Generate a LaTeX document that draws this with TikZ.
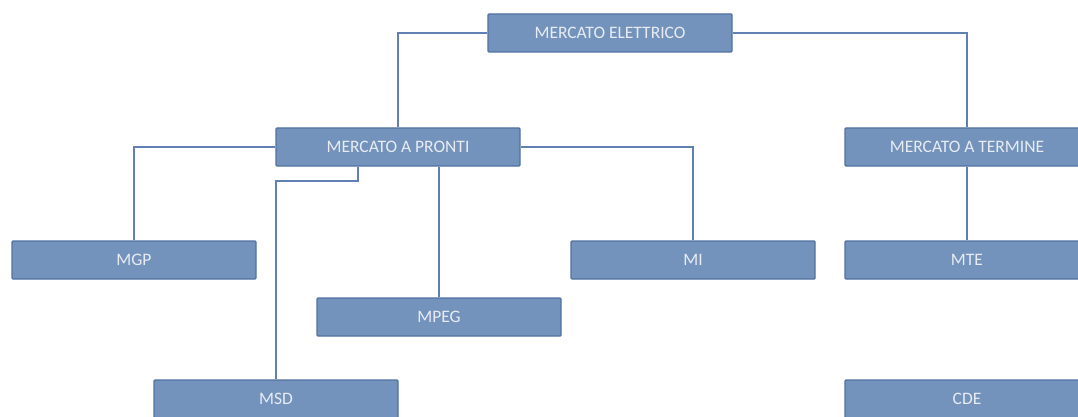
\documentclass[tikz,border=0pt]{standalone}
\usepackage{fontspec}
\setmainfont{Carlito}
\definecolor{boxfill}{RGB}{115,147,188}
\definecolor{boxdraw}{RGB}{80,114,160}
\definecolor{linec}{RGB}{96,128,180}
\definecolor{txt}{RGB}{232,236,242}
\begin{document}
\begin{tikzpicture}[x=1pt,y=1pt,
  box/.style={draw=boxdraw,fill=boxfill,line width=1.4pt,rounded corners=1pt,
    minimum width=244pt,minimum height=38pt,inner sep=0pt,text=txt,
    font=\fontsize{17.5}{19}\selectfont},
  conn/.style={draw=linec,line width=1.4pt}]
\useasboundingbox (0,0) rectangle (1078,-417);
\clip (0,0) rectangle (1078,-417);
\node[box] (ME) at (610,-33) {MERCATO ELETTRICO};
\node[box] (MAP) at (398,-147) {MERCATO A PRONTI};
\node[box] (MAT) at (967,-147) {MERCATO A TERMINE};
\node[box] (MGP) at (134,-260) {MGP};
\node[box] (MI) at (693,-260) {MI};
\node[box] (MTE) at (967,-260) {MTE};
\node[box] (MPEG) at (439,-317) {MPEG};
\node[box] (MSD) at (276,-399) {MSD};
\node[box] (CDE) at (967,-399) {CDE};
\coordinate (k) at (358,-181);
\draw[conn] (ME.west) -| (MAP.north);
\draw[conn] (ME.east) -| (MAT.north);
\draw[conn] (MAP.west) -| (MGP.north);
\draw[conn] (MAP.east) -| (MI.north);
\draw[conn] (MAP.south -| MPEG.north) -- (MPEG.north);
\draw[conn] (MAP.south -| k) -- (k) -| (MSD.north);
\draw[conn] (MAT.south) -- (MTE.north);
\end{tikzpicture}
\end{document}
